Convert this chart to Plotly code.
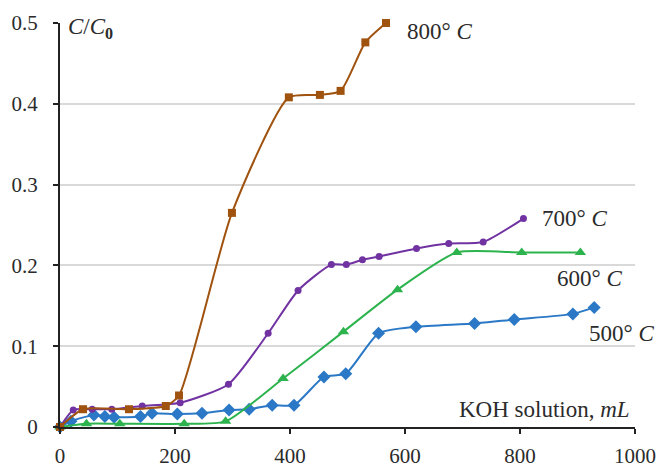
import plotly.graph_objects as go

# ---- data ----
x800 = [0, 40, 120, 184, 207, 299, 398, 452, 488, 531, 567]
y800 = [0, 0.022, 0.022, 0.026, 0.039, 0.265, 0.408, 0.411, 0.416, 0.476, 0.5]

x700 = [0, 23, 56, 90, 143, 209, 293, 362, 414, 472, 498, 526, 555, 620, 676, 736, 806]
y700 = [0, 0.021, 0.022, 0.022, 0.026, 0.030, 0.053, 0.116, 0.169, 0.201, 0.201,
        0.207, 0.211, 0.221, 0.227, 0.229, 0.258]

x600 = [0, 46, 104, 216, 288, 388, 493, 587, 690, 803, 905]
y600 = [0, 0.004, 0.004, 0.004, 0.007, 0.060, 0.118, 0.170, 0.216, 0.216, 0.216]

x500 = [0, 19, 59, 78, 94, 140, 160, 204, 247, 294, 329, 369, 407, 459, 497, 554,
        619, 721, 790, 892, 929]
y500 = [0, 0.007, 0.015, 0.013, 0.012, 0.013, 0.017, 0.016, 0.017, 0.021, 0.022,
        0.027, 0.027, 0.062, 0.066, 0.116, 0.124, 0.128, 0.133, 0.140, 0.148]

series_labels = ["800° <i>C</i>", "700° <i>C</i>", "600° <i>C</i>", "500° <i>C</i>"]
x_ticks = [0, 200, 400, 600, 800, 1000]
y_ticks = [0, 0.1, 0.2, 0.3, 0.4, 0.5]
y_tick_text = ["0", "0.1", "0.2", "0.3", "0.4", "0.5"]

FONT = "Liberation Serif"
TXT = "#2b2b2b"

fig = go.Figure()

def add(x, y, color, symbol, size):
    fig.add_trace(go.Scatter(
        x=x, y=y, mode="lines+markers",
        line=dict(color=color, width=2, shape="spline", smoothing=0.6),
        marker=dict(color=color, symbol=symbol, size=size),
        cliponaxis=False, showlegend=False, hoverinfo="skip"))

add(x500, y500, "#2A78C6", "diamond", 10)
add(x600, y600, "#2DB34D", "triangle-up", 10)
add(x700, y700, "#7132A2", "circle", 7)
add(x800, y800, "#A0520F", "square", 8)

ann_pos = [(600, 0.489), (835, 0.258), (861, 0.184), (917, 0.116)]
for (ax, ay), t in zip(ann_pos, series_labels):
    fig.add_annotation(x=ax, y=ay, text=t, showarrow=False, xanchor="left",
                       yanchor="middle", font=dict(family=FONT, size=23, color=TXT))

fig.add_annotation(x=995, y=0.022, text="KOH solution, <i>mL</i>", showarrow=False,
                   xanchor="right", yanchor="middle",
                   font=dict(family=FONT, size=23, color=TXT))
fig.add_annotation(x=10, y=0.494, text="<i>C</i>/<i>C</i><sub><b>0</b></sub>",
                   showarrow=False, xanchor="left", yanchor="middle",
                   font=dict(family=FONT, size=23, color=TXT))

fig.update_layout(
    template="none",
    width=659, height=470,
    margin=dict(l=60, r=24, t=23, b=43),
    paper_bgcolor="white", plot_bgcolor="white",
    font=dict(family=FONT, size=22, color=TXT),
    xaxis=dict(range=[0, 1000], tickvals=x_ticks, showgrid=False, zeroline=False,
               automargin=False, tickfont=dict(size=21),
               showline=True, linecolor="#222", linewidth=2,
               ticks="outside", ticklen=5, tickwidth=2, tickcolor="#222",
               ticklabelstandoff=4),
    yaxis=dict(range=[0, 0.5], tickvals=y_ticks, ticktext=y_tick_text,
               automargin=False, tickfont=dict(size=21),
               showgrid=True, gridcolor="#D9D9D9", gridwidth=1.5, zeroline=False,
               showline=True, linecolor="#222", linewidth=2,
               ticks="outside", ticklen=5, tickwidth=2, tickcolor="#222",
               ticklabelstandoff=11),
)

fig.write_html("out.html", config={"displayModeBar": False},
               post_script="document.body.style.margin='0';document.body.style.overflow='hidden';")
